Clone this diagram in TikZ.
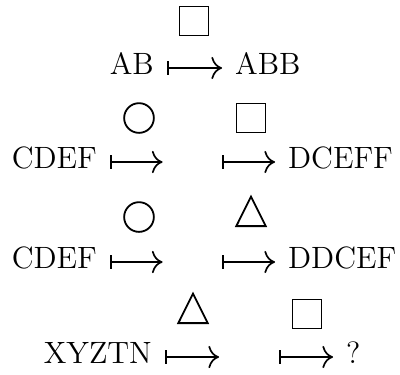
\documentclass[tikz,border=0pt]{standalone}
\usetikzlibrary{arrows.meta, shapes.geometric}
\tikzset{
  word/.style={font=\fontsize{11}{13}\selectfont, inner xsep=4.5pt, inner ysep=0pt},
  midgap/.style={minimum width=21pt, inner sep=0pt},
  mapsto/.style={{Bar[width=4.8pt]}-{Computer Modern Rightarrow[scale=1.3]}, line width=0.6pt},
  sq/.style={draw, rectangle, minimum size=10.4pt, inner sep=0pt, line width=0.65pt},
  ring/.style={draw, circle, minimum size=10.6pt, inner sep=0pt, line width=0.65pt},
  tri/.style={draw, isosceles triangle, isosceles triangle apex angle=53, shape border rotate=90,
    minimum width=10.5pt, minimum height=10.5pt, inner sep=0pt, line width=0.65pt}
}

\begin{document}
\begin{tikzpicture}[x=0.357pt, y=-0.357pt]
  \useasboundingbox (0,0) rectangle (400,374);

  % Row 1
  \node[word, anchor=mid east] (ab) at (167,68) {AB};
  \node[word, anchor=mid west] (abb) at (222,68) {ABB};
  \node[sq] (s1) at (194,21) {};
  \draw[mapsto] (ab.mid east) -- (abb.mid west);

  % Row 2
  \node[word, anchor=mid east] (cdef) at (110,162) {CDEF};
  \node[midgap] (m2) at (192.5,162) {};
  \node[word, anchor=mid west] (dceff) at (275,162) {DCEFF};
  \node[ring] (c2) at (139,118) {};
  \node[sq] (s2) at (251,118) {};
  \draw[mapsto] (cdef.mid east) -- (m2.west);
  \draw[mapsto] (m2.east) -- (dceff.mid west);

  % Row 3
  \node[word, anchor=mid east] (cdefb) at (110,262) {CDEF};
  \node[midgap] (m3) at (192.5,262) {};
  \node[word, anchor=mid west] (ddcef) at (275,262) {DDCEF};
  \node[ring] (c3) at (139,217) {};
  \node[tri] (t3) at (251,217) {};
  \draw[mapsto] (cdefb.mid east) -- (m3.west);
  \draw[mapsto] (m3.east) -- (ddcef.mid west);

  % Row 4
  \node[word, anchor=mid east] (xyztn) at (165,357) {XYZTN};
  \node[midgap] (m4) at (249,357) {};
  \node[word, anchor=mid west] (qm) at (333,357) {?};
  \node[tri] (t4) at (193,314) {};
  \node[sq] (s4) at (307,314) {};
  \draw[mapsto] (xyztn.mid east) -- (m4.west);
  \draw[mapsto] (m4.east) -- (qm.mid west);
\end{tikzpicture}
\end{document}
